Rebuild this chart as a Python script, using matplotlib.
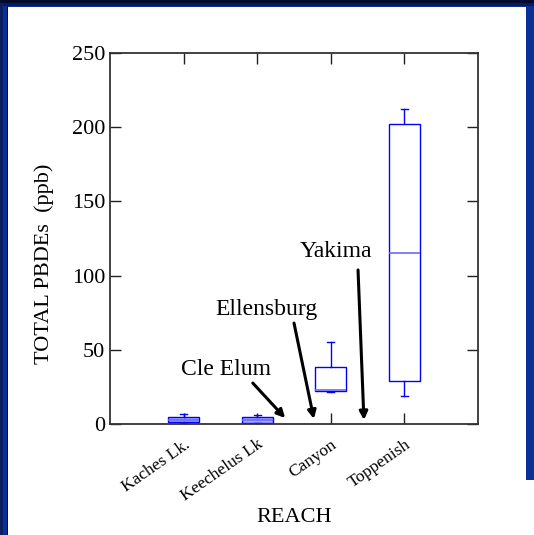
import matplotlib
matplotlib.use("Agg")
import matplotlib.pyplot as plt
from matplotlib.patches import Rectangle

plt.rcParams['font.family'] = ['Liberation Serif', 'DejaVu Serif']

# ---- data (five-number summaries) ----
categories = ["Kaches Lk.", "Keechelus Lk", "Canyon", "Toppenish"]
whislo = [0.5, 1.0, 21.5, 19.0]
q1 = [1.3, 1.0, 22.5, 29.0]
med = [3.0, 2.5, 23.0, 115.5]
q3 = [4.6, 4.6, 38.5, 202.0]
whishi = [7.0, 6.0, 55.0, 212.0]
filled = [True, True, False, False]

yticks = [0, 50, 100, 150, 200, 250]

# annotations: label, text position, arrow start, arrow tip (data coords)
ann_labels = ["Cle Elum", "Ellensburg", "Yakima"]
ann_text_xy = [(1.58, 37.0), (2.13, 77.0), (3.07, 116.0)]
ann_start_xy = [(1.94, 27.6), (2.50, 68.0), (3.37, 103.8)]
ann_tip_xy = [(2.38, 4.0), (2.77, 3.4), (3.45, 2.7)]

W, H, DPI = 534, 535, 100
fig = plt.figure(figsize=(W / DPI, H / DPI), dpi=DPI)
fig.patch.set_facecolor('#0a2f96')

def px_rect(x0, y0, x1, y1, color, z=0):
    # pixel coords from top-left
    r = Rectangle((x0 / W, 1 - y1 / H), (x1 - x0) / W, (y1 - y0) / H,
                  transform=fig.transFigure, facecolor=color, edgecolor='none',
                  zorder=z)
    fig.add_artist(r)

px_rect(0, 0, 3, H, '#0b1f60', 0)
px_rect(0, 0, W, 3, '#020a2e', 0)
px_rect(3, 3, W, 6, '#071a5a', 0)
px_rect(7, 6, 8, H, '#000a20', 0)
px_rect(8, 7, 526, H, 'white', 0)
px_rect(526, 480, W, H, 'white', 0)

ax = fig.add_axes([110 / W, 1 - 424 / H, 368 / W, 371 / H])
ax.set_facecolor('white')
ax.set_zorder(2)

stats = []
for i in range(len(categories)):
    stats.append(dict(label=categories[i], whislo=whislo[i], q1=q1[i],
                      med=med[i], q3=q3[i], whishi=whishi[i], fliers=[]))

positions = list(range(1, len(categories) + 1))
bp = ax.bxp(stats, positions=positions, widths=0.42, patch_artist=True,
            showfliers=False,
            boxprops=dict(edgecolor='#0000ff', linewidth=1.0, facecolor='white'),
            whiskerprops=dict(color='#0000ff', linewidth=1.0),
            capprops=dict(color='#0000ff', linewidth=1.0),
            medianprops=dict(color='#6a6aff', linewidth=1.2),
            capwidths=0.1)
for patch, f in zip(bp['boxes'], filled):
    if f:
        patch.set_facecolor('#a8a8ff')

ax.set_xlim(0, 5)
ax.set_ylim(0, 250)
ax.set_yticks(yticks)
ax.set_yticklabels([str(v) for v in yticks])
ax.set_xticks(positions)
ax.set_xticklabels(categories)

ax.tick_params(axis='both', direction='in', length=8, width=1.0, color='#222222',
               top=True, right=True, left=True, bottom=True)
ax.tick_params(axis='y', labelsize=16, pad=3.5)
ax.tick_params(axis='x', labelsize=12.5, pad=9)
for lab in ax.get_xticklabels():
    lab.set_rotation(35)
    lab.set_ha('right')
    lab.set_va('top')
    lab.set_rotation_mode('anchor')

for sp in ax.spines.values():
    sp.set_color('#333333')
    sp.set_linewidth(1.3)

ax.set_ylabel("TOTAL PBDEs  (ppb)", fontsize=16)
ax.yaxis.label.set_va('center')
ax.yaxis.set_label_coords(44 / W, 1 - 264 / H, transform=fig.transFigure)
ax.set_xlabel("REACH", fontsize=16)
ax.xaxis.label.set_va('center')
ax.xaxis.set_label_coords(294 / W, 1 - 518 / H, transform=fig.transFigure)

for lab, txy, sxy, pxy in zip(ann_labels, ann_text_xy, ann_start_xy, ann_tip_xy):
    ax.text(txy[0], txy[1], lab, fontsize=17, ha='center', va='center', zorder=5)
    ax.annotate('', xy=pxy, xytext=sxy,
                arrowprops=dict(arrowstyle='-|>', color='black', lw=2.2,
                                mutation_scale=12, shrinkA=0, shrinkB=0),
                zorder=5)

fig.savefig('out.png', dpi=DPI, facecolor=fig.get_facecolor())
